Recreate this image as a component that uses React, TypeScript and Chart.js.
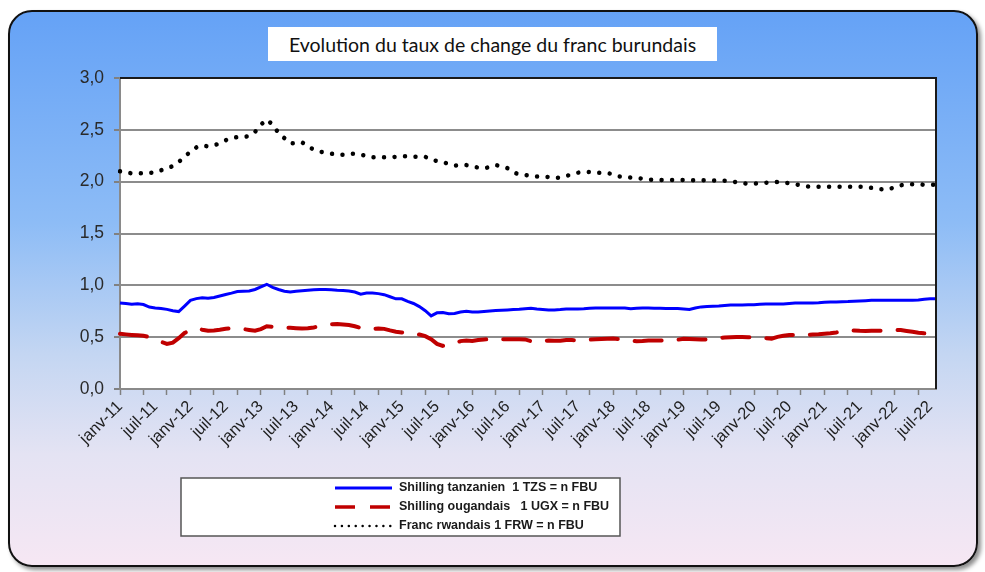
import React, { useEffect, useRef } from 'react';
import { Chart, registerables } from 'chart.js';

Chart.register(...registerables);

// ---- Data ----
const MONTHS_FR = ['janv', 'févr', 'mars', 'avr', 'mai', 'juin', 'juil', 'août', 'sept', 'oct', 'nov', 'déc'];
const START_YEAR = 2011;
const N_MONTHS = 140; // janv-11 .. août-22
const CATEGORIES: string[] = Array.from({ length: N_MONTHS }, (_, i) =>
  `${MONTHS_FR[i % 12]}-${String((START_YEAR + Math.floor(i / 12)) % 100).padStart(2, '0')}`
);

const Y_TICKS = [0, 0.5, 1, 1.5, 2, 2.5, 3];

const TITLE = 'Evolution du taux de change du franc burundais';
const LABEL_TZS = 'Shilling tanzanien  1 TZS = n FBU';
const LABEL_UGX = 'Shilling ougandais   1 UGX = n FBU';
const LABEL_FRW = 'Franc rwandais 1 FRW = n FBU';

const TZS = [
  0.83, 0.825, 0.817, 0.822, 0.815, 0.79, 0.782, 0.777, 0.768, 0.755, 0.747, 0.80,
  0.855, 0.872, 0.88, 0.875, 0.882, 0.897, 0.912, 0.925, 0.94, 0.944, 0.946, 0.96,
  0.985, 1.01, 0.98, 0.96, 0.943, 0.935, 0.943, 0.947, 0.952, 0.958, 0.96, 0.96,
  0.958, 0.953, 0.95, 0.945, 0.935, 0.915, 0.925, 0.926, 0.92, 0.91, 0.89, 0.87,
  0.87, 0.845, 0.825, 0.795, 0.755, 0.705, 0.735, 0.737, 0.725, 0.728, 0.743, 0.75,
  0.742, 0.742, 0.747, 0.752, 0.757, 0.76, 0.763, 0.767, 0.77, 0.775, 0.778, 0.772,
  0.768, 0.763, 0.763, 0.766, 0.771, 0.772, 0.772, 0.774, 0.778, 0.782, 0.782, 0.782,
  0.782, 0.782, 0.782, 0.774, 0.778, 0.782, 0.781, 0.78, 0.778, 0.776, 0.776, 0.776,
  0.772, 0.767, 0.782, 0.792, 0.795, 0.798, 0.80, 0.805, 0.81, 0.81, 0.811, 0.812,
  0.813, 0.817, 0.82, 0.82, 0.82, 0.82, 0.825, 0.83, 0.83, 0.83, 0.83, 0.832,
  0.836, 0.84, 0.84, 0.842, 0.843, 0.846, 0.85, 0.852, 0.855, 0.856, 0.856, 0.856,
  0.856, 0.856, 0.856, 0.856, 0.858, 0.866, 0.87, 0.87,
];

const UGX = [
  0.533, 0.527, 0.522, 0.518, 0.514, 0.50, 0.48, 0.455, 0.435, 0.447, 0.49, 0.54,
  0.57, 0.585, 0.572, 0.562, 0.565, 0.572, 0.582, 0.585, 0.583, 0.578, 0.57, 0.562,
  0.578, 0.605, 0.60, 0.595, 0.592, 0.59, 0.587, 0.583, 0.587, 0.594, 0.605, 0.615,
  0.625, 0.627, 0.622, 0.617, 0.605, 0.588, 0.578, 0.577, 0.583, 0.58, 0.565, 0.552,
  0.546, 0.54, 0.532, 0.525, 0.51, 0.48, 0.435, 0.416, 0.423, 0.44, 0.462, 0.467,
  0.464, 0.472, 0.478, 0.48, 0.48, 0.48, 0.48, 0.48, 0.48, 0.478, 0.462, 0.457,
  0.462, 0.467, 0.465, 0.466, 0.473, 0.472, 0.47, 0.471, 0.476, 0.48, 0.482, 0.484,
  0.486, 0.48, 0.473, 0.468, 0.461, 0.463, 0.467, 0.467, 0.467, 0.47, 0.472, 0.475,
  0.485, 0.483, 0.48, 0.478, 0.477, 0.482, 0.49, 0.496, 0.50, 0.502, 0.501, 0.50,
  0.50, 0.497, 0.49, 0.486, 0.503, 0.513, 0.52, 0.522, 0.519, 0.522, 0.526, 0.528,
  0.532, 0.537, 0.545, 0.556, 0.566, 0.564, 0.561, 0.56, 0.561, 0.562, 0.563, 0.566,
  0.57, 0.568, 0.56, 0.553, 0.543, 0.537, 0.534, 0.531,
];

const FRW = [
  2.10, 2.09, 2.08, 2.08, 2.08, 2.085, 2.09, 2.11, 2.13, 2.15, 2.19, 2.24,
  2.29, 2.33, 2.35, 2.34, 2.35, 2.37, 2.40, 2.42, 2.43, 2.43, 2.44, 2.48,
  2.55, 2.60, 2.55, 2.47, 2.42, 2.37, 2.37, 2.38, 2.34, 2.31, 2.29, 2.28,
  2.27, 2.26, 2.26, 2.27, 2.27, 2.26, 2.25, 2.235, 2.235, 2.235, 2.235, 2.24,
  2.245, 2.245, 2.24, 2.24, 2.24, 2.21, 2.20, 2.19, 2.17, 2.155, 2.16, 2.16,
  2.15, 2.135, 2.13, 2.14, 2.16, 2.15, 2.13, 2.09, 2.07, 2.065, 2.055, 2.05,
  2.05, 2.045, 2.035, 2.04, 2.055, 2.07, 2.087, 2.09, 2.094, 2.087, 2.084, 2.084,
  2.07, 2.05, 2.045, 2.04, 2.035, 2.03, 2.02, 2.018, 2.016, 2.015, 2.015, 2.015,
  2.015, 2.015, 2.014, 2.013, 2.013, 2.012, 2.011, 2.01, 2.005, 1.995, 1.985, 1.98,
  1.98, 1.985, 1.99, 1.995, 1.997, 1.99, 1.985, 1.975, 1.965, 1.955, 1.95, 1.95,
  1.95, 1.95, 1.95, 1.95, 1.95, 1.95, 1.95, 1.95, 1.94, 1.93, 1.925, 1.925,
  1.95, 1.965, 1.975, 1.975, 1.975, 1.97, 1.97, 1.97,
];

// ---- Plugins ----
const plotBackground = {
  id: 'plotBackground',
  beforeDraw(chart: any) {
    const { ctx, chartArea } = chart;
    ctx.save();
    ctx.fillStyle = '#ffffff';
    ctx.fillRect(chartArea.left, chartArea.top, chartArea.right - chartArea.left, chartArea.bottom - chartArea.top);
    ctx.restore();
  },
  afterDatasetsDraw(chart: any) {
    const { ctx, chartArea } = chart;
    ctx.save();
    ctx.strokeStyle = '#1a1a1a';
    ctx.lineWidth = 2;
    ctx.beginPath();
    ctx.moveTo(chartArea.left, chartArea.top);
    ctx.lineTo(chartArea.right, chartArea.top);
    ctx.lineTo(chartArea.right, chartArea.bottom);
    ctx.stroke();
    ctx.restore();
  },
};

const boxedLegend = {
  id: 'boxedLegend',
  afterDraw(chart: any) {
    const ctx = chart.ctx;
    const box = { x: 181, y: 478, w: 439, h: 58 };
    ctx.save();
    ctx.fillStyle = '#ffffff';
    ctx.fillRect(box.x, box.y, box.w, box.h);
    ctx.strokeStyle = '#555555';
    ctx.lineWidth = 1.5;
    ctx.strokeRect(box.x, box.y, box.w, box.h);
    const sampleX0 = 335;
    const sampleX1 = 392;
    const textX = 399;
    const rowY = [488, 507, 526];
    const legendDash = [[], [20, 15], [0.01, 6.9]];
    const legendWidth = [3, 3.5, 2.5];
    const legendCap = ['butt', 'butt', 'round'];
    chart.data.datasets.forEach((ds: any, i: number) => {
      const y = rowY[i];
      ctx.beginPath();
      ctx.strokeStyle = ds.borderColor;
      ctx.lineWidth = legendWidth[i];
      ctx.lineCap = legendCap[i];
      ctx.setLineDash(legendDash[i]);
      ctx.moveTo(sampleX0, y);
      ctx.lineTo(sampleX1, y);
      ctx.stroke();
      ctx.setLineDash([]);
      ctx.fillStyle = '#1a1a1a';
      ctx.font = 'bold 12.5px "Liberation Sans", Arial, sans-serif';
      ctx.textBaseline = 'middle';
      ctx.textAlign = 'left';
      ctx.fillText(ds.label, textX, y);
    });
    ctx.restore();
  },
};

export default function App() {
  const canvasRef = useRef<HTMLCanvasElement | null>(null);

  useEffect(() => {
    if (!canvasRef.current) return;
    const chart = new Chart(canvasRef.current, {
      type: 'line',
      data: {
        labels: CATEGORIES,
        datasets: [
          {
            label: LABEL_TZS,
            data: TZS,
            borderColor: '#0000ff',
            borderWidth: 3,
            pointRadius: 0,
            tension: 0,
            fill: false,
          },
          {
            label: LABEL_UGX,
            data: UGX,
            borderColor: '#c00000',
            borderWidth: 4,
            borderDash: [27, 17],
            borderCapStyle: 'round',
            pointRadius: 0,
            tension: 0,
            fill: false,
          },
          {
            label: LABEL_FRW,
            data: FRW,
            borderColor: '#000000',
            borderWidth: 4.5,
            borderDash: [0.01, 10.5],
            borderCapStyle: 'round',
            pointRadius: 0,
            tension: 0,
            fill: false,
          },
        ],
      },
      options: {
        animation: false,
        responsive: false,
        maintainAspectRatio: false,
        layout: { padding: { top: 78, right: 49, left: 0, bottom: 123 } },
        plugins: {
          legend: { display: false },
          tooltip: { enabled: false },
          title: { display: false },
        },
        scales: {
          x: {
            type: 'category',
            offset: false,
            grid: {
              display: true,
              drawOnChartArea: false,
              drawTicks: true,
              tickLength: 6,
              tickWidth: 1.5,
              tickColor: (ctx: any) => (ctx.index % 4 === 0 ? '#808080' : 'rgba(0,0,0,0)'),
            },
            border: { display: true, color: '#8a8a8a', width: 2 },
            ticks: {
              autoSkip: false,
              maxRotation: 45,
              minRotation: 45,
              padding: 2,
              color: '#1e1e1e',
              font: { family: '"Liberation Sans", Arial, sans-serif', size: 16.5 },
              callback: function (this: any, value: any, index: number) {
                return index % 6 === 0 ? this.getLabelForValue(value) : '';
              },
            },
            afterFit: (scale: any) => {
              scale.height = 60;
            },
          },
          y: {
            min: Y_TICKS[0],
            max: Y_TICKS[Y_TICKS.length - 1],
            grid: {
              color: '#8c8c8c',
              lineWidth: 2,
              drawTicks: true,
              tickLength: 6,
              tickColor: '#808080',
            },
            border: { display: true, color: '#8a8a8a', width: 2 },
            ticks: {
              stepSize: 0.5,
              padding: 10,
              color: '#2a2a2a',
              font: { family: '"Liberation Sans", Arial, sans-serif', size: 17.5 },
              callback: (value: any) => Number(value).toFixed(1).replace('.', ','),
            },
            afterFit: (scale: any) => {
              scale.width = 120;
            },
          },
        },
      },
      plugins: [plotBackground, boxedLegend],
    } as any);
    return () => chart.destroy();
  }, []);

  return (
    <div style={{ position: 'absolute', left: 0, top: 0, width: 985, height: 572, overflow: 'hidden' }}>
      <div
        style={{
          position: 'absolute',
          left: 8,
          top: 10,
          width: 970,
          height: 557,
          boxSizing: 'border-box',
          border: '2.5px solid #111',
          borderRadius: 24,
          background: 'linear-gradient(to bottom, #65a2f6 0%, #8dbcf6 38%, #c4d6f2 62%, #e4e3f3 80%, #f6e7f3 100%)',
          boxShadow: '3px 3px 4px rgba(0,0,0,0.45)',
        }}
      />
      <div
        style={{
          position: 'absolute',
          left: 268,
          top: 27,
          width: 449,
          height: 34,
          background: '#ffffff',
          display: 'flex',
          alignItems: 'center',
          justifyContent: 'center',
          fontFamily: 'Lato, "Open Sans", sans-serif',
          fontSize: 19.5,
          color: '#111',
          whiteSpace: 'nowrap',
        }}
      >
        {TITLE}
      </div>
      <canvas
        ref={canvasRef}
        width={985}
        height={572}
        style={{ position: 'absolute', left: 0, top: 0, width: 985, height: 572 }}
      />
    </div>
  );
}
